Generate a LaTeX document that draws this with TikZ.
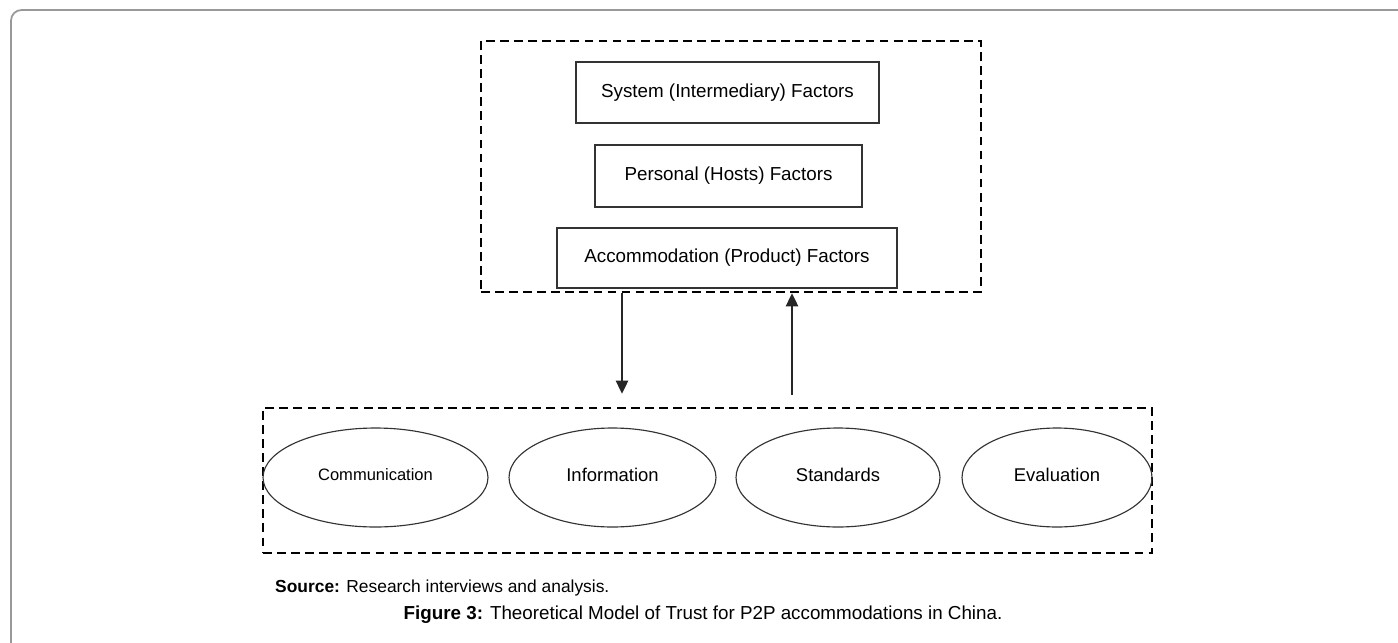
\documentclass[tikz,border=0pt]{standalone}
\usepackage{fontspec}
\setmainfont{Liberation Sans}
\usetikzlibrary{arrows.meta}
\usetikzlibrary{positioning}
\usetikzlibrary{shapes.geometric}
\tikzset{
  dashbox/.style = {draw, line width = 1.4pt, dash pattern = on 5pt off 3pt, inner sep = 0},
  factor/.style = {draw = black!80, line width = 0.75pt, inner sep = 0, font = \fontsize{10.7}{12}\selectfont},
  aspect/.style = {draw = black!80, ellipse, line width = 0.65pt, inner sep = 0, font = \fontsize{10.5}{12}\selectfont},
  flow/.style = {line width = 1pt, black!85, -{Triangle[width = 7pt, length = 7.5pt]}}
}

\begin{document}
\begin{tikzpicture}[x = 0.02cm, y = -0.02cm]
      \useasboundingbox (0, 0) rectangle (1398, 642);
      \clip (0, 0) rectangle (1398, 642);
      \draw [black!40, line width = 1pt, rounded corners = 6] (11, 700) -- (11, 10) -- (1450, 10);

      % factor boxes
      \node [dashbox, minimum width = 10cm, minimum height = 5.02cm] (factors) at (731, 166.5) {};
      \node [factor, minimum width = 6.06cm, minimum height = 1.22cm] (sys) at (727.5, 92.5) {System (Intermediary) Factors};
      \node [factor, minimum width = 5.34cm, minimum height = 1.24cm] (pers) at (728.5, 176) {Personal (Hosts) Factors};
      \node [factor, minimum width = 6.8cm, minimum height = 1.2cm] (acc) at (727, 258) {Accommodation (Product) Factors};

      % trust aspects
      \node [dashbox, minimum width = 17.78cm, minimum height = 2.9cm] (aspects) at (707.5, 480.5) {};
      \foreach \name/\x/\w/\txt in {comm/375.5/4.5/{\fontsize{9.4}{11}\selectfont Communication},
                                    info/612.5/4.14/Information,
                                    stand/838/4.08/Standards,
                                    eval/1057/3.8/Evaluation} {
        \node [aspect, minimum width = \w cm, minimum height = 1.98cm] (\name) at (\x, 477.5) {\raisebox{3pt}{\txt}};
      }

      \coordinate (dn) at (622, 0);
      \coordinate (up) at (792, 0);
      \draw [flow, shorten > = 0.26cm] (factors.south -| dn) -- (aspects.north -| dn);
      \draw [flow, shorten < = 0.24cm] (aspects.north -| up) -- (factors.south -| up);

      \node [anchor = west, font = \fontsize{9.9}{12}\selectfont] (src) at (269, 588) {\textbf{Source:} Research interviews and analysis.};
      \node [font = \fontsize{10.7}{12}\selectfont] (cap) at (703, 615) {\textbf{Figure 3:} Theoretical Model of Trust for P2P accommodations in China.};
    \end{tikzpicture}
\end{document}
